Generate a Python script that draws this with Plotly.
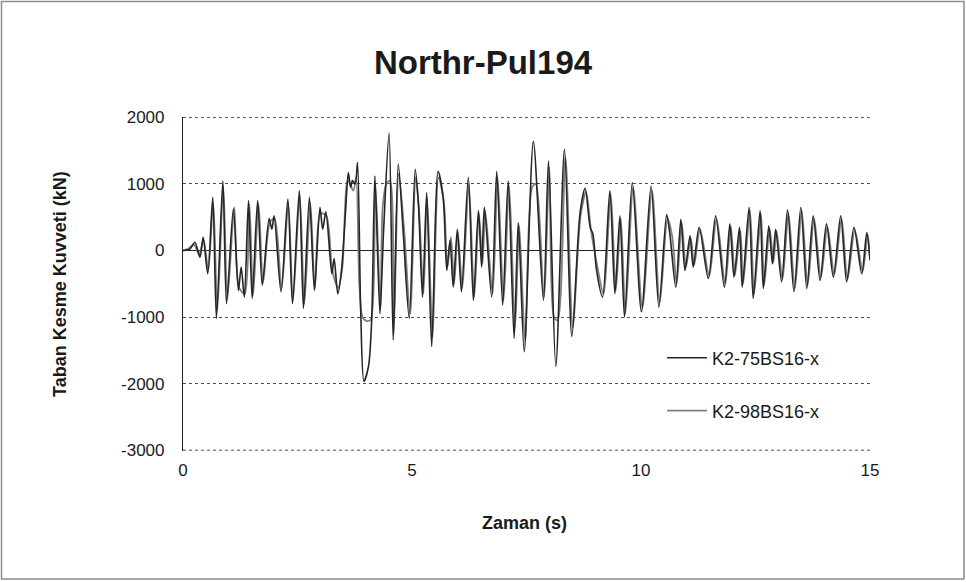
import plotly.graph_objects as go

# Time (s) and base shear (kN) turning points
t_75 = [0.00, 0.15, 0.26, 0.37, 0.44, 0.54, 0.65, 0.73, 0.87, 0.95, 1.10, 1.21, 1.27, 1.34, 1.43, 1.51,
        1.63, 1.73, 1.88, 1.94, 1.99, 2.14, 2.29, 2.39, 2.54, 2.63, 2.76, 2.87, 2.99, 3.05, 3.12, 3.25,
        3.30, 3.38, 3.46, 3.55, 3.61, 3.66, 3.70, 3.76, 3.81, 3.88, 3.95, 4.05, 4.12, 4.19, 4.30, 4.38,
        4.50, 4.59, 4.70, 4.81, 4.94, 5.07, 5.14, 5.23, 5.32, 5.43, 5.57, 5.68, 5.76, 5.83, 5.90, 5.99,
        6.08, 6.23, 6.34, 6.45, 6.52, 6.58, 6.74, 6.85, 6.98, 7.10, 7.23, 7.32, 7.45, 7.65, 7.87, 7.98,
        8.14, 8.33, 8.49, 8.67, 8.78, 8.89, 8.95, 9.03, 9.16, 9.32, 9.43, 9.54, 9.64, 9.81, 10.01, 10.22,
        10.39, 10.56, 10.63, 10.76, 10.87, 10.96, 11.07, 11.14, 11.27, 11.47, 11.63, 11.82, 11.94, 12.03,
        12.15, 12.21, 12.36, 12.45, 12.60, 12.67, 12.79, 12.87, 12.94, 13.07, 13.20, 13.34, 13.49, 13.62,
        13.76, 13.91, 14.05, 14.20, 14.36, 14.49, 14.65, 14.82, 14.93, 15.00]
v_75 = [0, 20, 125, -100, 200, -350, 800, -1020, 1045, -800, 625, -600, -250, -700, 750, -720,
        750, -520, 480, 320, 520, -620, 775, -800, 900, -870, 800, -600, 650, 320, 580, -350,
        -120, -650, -300, 600, 1170, 950, 1050, 1000, 1320, -900, -1965, -1740, -1045, 1120, -950, 300,
        1765, -1345, 1300, 250, -1020, 1220, 700, -700, 870, -1440, 1190, 800, -300, 150, -550, 320,
        -620, 1100, -750, 600, -250, 650, -700, 1190, -820, 1045, -1320, 420, -1520, 1640, -750, 1345,
        -1740, 1520, -1290, 570, 935, 350, 250, -300, -700, 900, -650, 520, -1000, 1020, -920, 970,
        -850, 540, 250, -550, 470, -300, 220, -250, 350, -420, 520, -550, 400, -400,
        350, -550, 650, -720, 600, -570, 370, -200, 320, -470, 610, -620, 650, -570,
        520, -450, 400, -400, 520, -470, 350, -350, 270, -150]

t_98 = [0.00, 0.12, 0.24, 0.35, 0.45, 0.55, 0.66, 0.75, 0.88, 0.97, 1.12, 1.22, 1.35, 1.45, 1.53, 1.65,
        1.75, 1.90, 2.00, 2.15, 2.30, 2.40, 2.55, 2.65, 2.78, 2.88, 3.00, 3.13, 3.26, 3.39, 3.48, 3.60,
        3.72, 3.78, 3.85, 3.92, 4.02, 4.10, 4.20, 4.31, 4.36, 4.44, 4.52, 4.60, 4.71, 4.83, 4.96, 5.08,
        5.15, 5.25, 5.33, 5.45, 5.58, 5.70, 5.77, 5.85, 5.92, 6.00, 6.10, 6.24, 6.36, 6.46, 6.54, 6.60,
        6.76, 6.87, 7.00, 7.12, 7.25, 7.34, 7.47, 7.62, 7.70, 7.88, 8.00, 8.10, 8.18, 8.35, 8.51, 8.68,
        8.80, 8.91, 9.05, 9.18, 9.34, 9.45, 9.56, 9.66, 9.83, 10.03, 10.24, 10.41, 10.58, 10.68, 10.78,
        10.89, 10.98, 11.09, 11.16, 11.29, 11.49, 11.65, 11.84, 11.96, 12.05, 12.17, 12.23, 12.38, 12.47,
        12.62, 12.69, 12.81, 12.89, 12.96, 13.09, 13.22, 13.36, 13.51, 13.64, 13.78, 13.93, 14.07, 14.22,
        14.38, 14.51, 14.67, 14.84, 14.95, 15.00]
v_98 = [0, 30, 90, -60, 160, -300, 720, -900, 960, -720, 650, -550, -650, 700, -680, 700,
        -480, 430, 480, -580, 700, -760, 830, -800, 720, -560, 560, 520, -300, -560, -250, 1050,
        900, 1100, -500, -1000, -1060, -1040, 1000, -880, 650, 1000, 1050, -1250, 1150, 300, -950, 1100,
        650, -650, 800, -1300, 1100, 700, -250, 200, -500, 280, -560, 1000, -700, 560, -200, 600,
        -650, 1100, -750, 980, -1150, 380, -1350, 950, 1000, -700, 1250, -1000, -1050, 1400, -1150, 520,
        880, 300, -250, -650, 850, -600, 480, -950, 950, -850, 900, -780, 480, 220, -500,
        420, -250, 180, -220, 320, -380, 480, -500, 370, -370, 300, -500, 600, -650,
        550, -520, 330, -180, 290, -430, 560, -570, 600, -520, 480, -400, 360, -360,
        480, -430, 310, -310, 240, -120]

series_names = ["K2-75BS16-x", "K2-98BS16-x"]
y_ticks = [-3000, -2000, -1000, 0, 1000, 2000]
y_ticktext = ["-3000", "-2000", "-1000", "0", "1000", "2000"]
x_ticks = [0, 5, 10, 15]

FONT = "Liberation Sans"
TXT = "#1a1a1a"
GRID = "#4d4d4d"

fig = go.Figure()
fig.add_trace(go.Scatter(x=t_98, y=v_98, mode="lines", name=series_names[1],
                         line=dict(color="#7f7f7f", width=1.8, shape="spline", smoothing=0.8),
                         legend="legend2"))
fig.add_trace(go.Scatter(x=t_75, y=v_75, mode="lines", name=series_names[0],
                         line=dict(color="#262626", width=1.6, shape="spline", smoothing=0.8),
                         legend="legend"))

L, R, T, B = 183, 870, 117, 451
W, H = 966, 582
pw, ph = R - L, B - T

def px(x):
    return (x - L) / pw

def py(y):
    return (B - y) / ph

fig.update_layout(
    width=W, height=H,
    margin=dict(l=L, r=W - R, t=T, b=H - B, pad=0),
    paper_bgcolor="white", plot_bgcolor="white",
    font=dict(family=FONT, color=TXT, size=16),
    title=dict(text="<b>Northr-Pul194</b>", x=483 / W, xanchor="center",
               y=1 - 62 / H, yanchor="middle", font=dict(size=33, color=TXT, family=FONT)),
    xaxis=dict(range=[0, 15], tickvals=x_ticks, showgrid=False, zeroline=False,
               showline=False, ticks="", tickfont=dict(size=17), ticklabelstandoff=7),
    yaxis=dict(range=[y_ticks[0] - 12, y_ticks[-1] + 6], tickvals=y_ticks, ticktext=y_ticktext,
               showgrid=True, gridcolor=GRID, griddash="dot", gridwidth=1, zeroline=True,
               zerolinecolor="#222", zerolinewidth=1.2,
               showline=True, linecolor="#222", linewidth=1.2, ticks="",
               tickfont=dict(size=17), ticklabelstandoff=14),
    legend=dict(x=px(662), y=py(358), xanchor="left", yanchor="middle",
                bgcolor="rgba(0,0,0,0)", font=dict(size=18, color=TXT), itemwidth=40),
    legend2=dict(x=px(662), y=py(411), xanchor="left", yanchor="middle",
                 bgcolor="rgba(0,0,0,0)", font=dict(size=18, color=TXT), itemwidth=40),
    showlegend=True,
)

# gridlines at the range edges (plotly may omit them)
for yv in (y_ticks[0], y_ticks[-1]):
    fig.add_hline(y=yv, line=dict(color=GRID, width=1, dash="dot"), layer="below")

fig.add_annotation(text="<b>Zaman (s)</b>", xref="paper", yref="paper", x=px(524), y=py(523),
                   showarrow=False, font=dict(size=18, color=TXT), xanchor="center", yanchor="middle")
fig.add_annotation(text="<b>Taban Kesme Kuvveti (kN)</b>", xref="paper", yref="paper", x=px(60),
                   y=py(284), showarrow=False, textangle=-90, font=dict(size=18, color=TXT),
                   xanchor="center", yanchor="middle")
fig.add_shape(type="rect", xref="paper", yref="paper", x0=px(1.5), x1=px(964), y0=py(579), y1=py(1.5),
              line=dict(color="#8c8c8c", width=1.5), fillcolor="rgba(0,0,0,0)", layer="below")

fig.write_html("out.html")
